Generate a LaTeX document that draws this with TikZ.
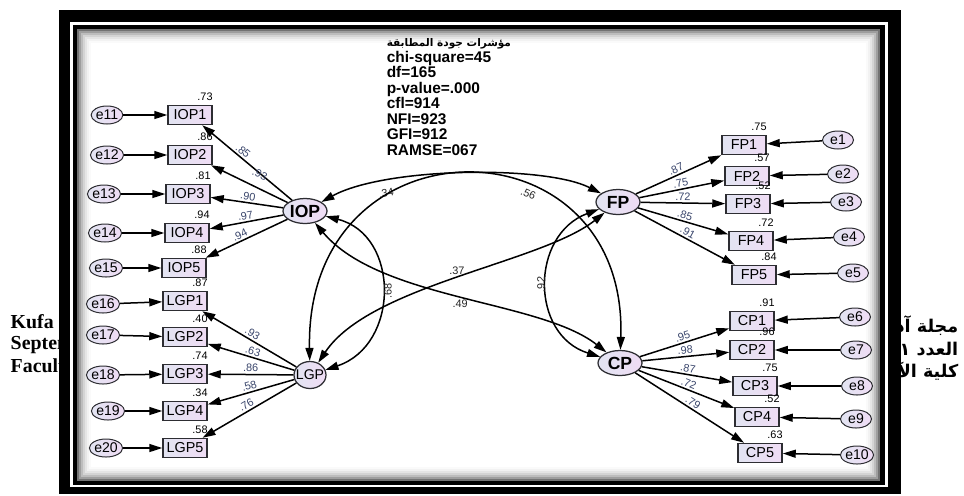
\documentclass[tikz,border=0pt]{standalone}
\usepackage{fontspec}
\setmainfont{Liberation Sans}
\newfontfamily\timesbold{Liberation Serif}
\newfontfamily\arabicfont[Script=Arabic]{DejaVu Sans}
\usetikzlibrary{arrows.meta,shapes.geometric}
\TeXXeTstate=1

\definecolor{fillL}{RGB}{226,228,242}
\definecolor{fillR}{RGB}{239,220,244}
\definecolor{rim}{RGB}{45,45,50}
\definecolor{loadblue}{RGB}{58,70,108}

\tikzset{
  obs/.style={rectangle, draw=rim, line width=0.3mm, left color=fillL, right color=fillR,
    minimum width=8.8mm, minimum height=3.8mm, inner sep=0pt,
    font=\fontsize{8.2}{9}\selectfont},
  err/.style={ellipse, draw=rim, line width=0.2mm, left color=fillL, right color=fillR,
    minimum width=6.2mm, minimum height=3.6mm, inner sep=0pt,
    font=\fontsize{8}{9}\selectfont},
  lat/.style={ellipse, draw=rim, line width=0.25mm, left color=fillL, right color=fillR,
    minimum width=8.8mm, minimum height=5mm, inner sep=0pt,
    font=\bfseries\fontsize{10}{11}\selectfont},
  varlbl/.style={font=\fontsize{6.2}{7}\selectfont, inner sep=0.6pt, xshift=3mm},
  loadlbl/.style={font=\fontsize{6.2}{7}\selectfont, text=loadblue, inner sep=1pt},
  covlbl/.style={font=\fontsize{6.2}{7}\selectfont, text=black!85, inner sep=1pt},
  fitlbl/.style={font=\bfseries\fontsize{8.8}{9}\selectfont, inner sep=0pt, anchor=base west},
  pagetxt/.style={font=\timesbold\bfseries\fontsize{11.3}{12}\selectfont, inner sep=0pt},
  pagearab/.style={font=\arabicfont\bfseries\fontsize{10}{12}\selectfont, inner sep=0pt, anchor=east}
}

\begin{document}
\begin{tikzpicture}[x=0.2mm, y=-0.2mm, >={Triangle[length=2.6mm,width=1.6mm]},
  line width=0.3mm, label distance=0.5mm]
\useasboundingbox (0,0) rectangle (964,495);

% ----- Page text behind the frame -----
\foreach \t/\y in {Kufa J/322, Septem/345, Faculty/368}{
  \node[pagetxt, anchor=west] (pg\y) at (10,\y) {\t};
}
\node[pagearab] (ar1) at (959,326) {\beginR مجلة آداب\endR};
\node[pagearab] (ar2) at (959,349) {\beginR العدد ٦١\endR};
\node[pagearab] (ar3) at (959,371) {\beginR كلية الآداب\endR};

% ----- Frame -----
\fill[black] (59,10) rectangle (901,494);
\fill[white] (70,22) rectangle (888,487);
\fill[black] (73,25) rectangle (885,485);
\fill[white] (77,29) rectangle (880,481);
\foreach \i/\c in {0/55,1/38,2/26,3/17,4/10,5/5,6/2}{
  \draw[black!\c, line width=0.4mm] (78+2*\i,30+2*\i) rectangle (879-2*\i,480-2*\i);
}

% ----- Fit indices -----
\node[fitlbl, font=\arabicfont\bfseries\fontsize{6}{9}\selectfont] (fit0) at (386,46) {\beginR مؤشرات جودة المطابقة\endR};
\foreach \t [count=\i] in {chi-square=45, df=165, p-value=.000, cfl=914, NFI=923, GFI=912, RAMSE=067}{
  \node[fitlbl] (fit\i) at (386,{46.5+15.5*\i}) {\t};
}

% ----- Latent factors -----
\node[lat] (IOP) at (305,211) {IOP};
\node[lat] (FP) at (618,202) {FP};
\node[lat] (CP) at (620,363) {CP};
\node[lat, font=\fontsize{8}{9}\selectfont, minimum width=6.4mm, minimum height=5.4mm,
  inner xsep=-1.2mm] (LGP) at (310,375) {LGP};

% ----- IOP items -----
\foreach \n/\bx/\by/\ex/\va/\ld/\lp/\ls in {1/190/115/107/.73/.85/.41/0mm, 2/190/155/107/.86/.93/.56/1.4mm,
    3/188/194/104/.81/.90/.5/0mm, 4/187/233/105/.94/.97/.5/0mm, 5/184/268/106/.88/.94/.45/0mm}{
  \node[obs, label={[varlbl]above:\va}] (IOP\n) at (\bx,\by) {IOP\n};
  \node[err] (e1\n) at (\ex,\by) {e1\n};
  \draw[->] (e1\n) -- (IOP\n);
  \draw[<-] (IOP\n) -- node[loadlbl, sloped, above=\ls, pos=\lp] {\ld} (IOP);
}

% ----- LGP items -----
\foreach \n/\by/\ex/\ey/\va/\ld [count=\k from 16] in {1/301/103/304/.87/.93, 2/337/103/335/.40/.63,
    3/374/103/375/.74/.86, 4/411/108/411/.34/.58, 5/448/106/448/.58/.76}{
  \node[obs, label={[varlbl]above:\va}] (LGP\n) at (185,\by) {LGP\n};
  \node[err] (e\k) at (\ex,\ey) {e\k};
  \draw[->] (e\k) -- (LGP\n);
  \draw[<-] (LGP\n) -- node[loadlbl, sloped, above] {\ld} (LGP);
}

% ----- FP items -----
\foreach \n/\bx/\by/\ex/\ey/\va/\ld in {1/744/145/838/140/.75/.87, 2/747/176/843/174/.57/.75,
    3/748/204/846/202/.52/.72, 4/751/241/849/237/.72/.85, 5/754/275/853/273/.84/.91}{
  \node[obs, label={[varlbl]above:\va}] (FP\n) at (\bx,\by) {FP\n};
  \node[err] (e\n) at (\ex,\ey) {e\n};
  \draw[->] (e\n) -- (FP\n);
  \draw[->] (FP) -- node[loadlbl, sloped, above] {\ld} (FP\n);
}

% ----- CP items -----
\foreach \n/\bx/\by/\ex/\ey/\va/\ld [count=\k from 6] in {1/752/321/855/317/.91/.95, 2/752/350/856/350/.96/.98,
    3/755/386/857/386/.75/.87, 4/757/417/856/419/.52/.72, 5/760/453/857/455/.63/.79}{
  \node[obs, label={[varlbl]above:\va}] (CP\n) at (\bx,\by) {CP\n};
  \node[err] (e\k) at (\ex,\ey) {e\k};
  \draw[->] (e\k) -- (CP\n);
  \draw[->] (CP) -- node[loadlbl, sloped, above] {\ld} (CP\n);
}

% ----- Covariances -----
\draw[<->] (IOP) .. controls (385,167) and (545,165) .. (FP)
  node[covlbl, pos=.25, sloped, below=1mm] {.34};
\draw[<->] (LGP) .. controls (305,115) and (628,115) .. (CP)
  node[covlbl, pos=.64, sloped, below] {.56};
\draw[<->] (IOP) .. controls (400,235) and (400,345) .. (LGP)
  node[covlbl, pos=.5, rotate=90, anchor=north] {.68};
\draw[<->] (LGP) .. controls (370,285) and (541,263) .. (FP)
  node[covlbl, pos=.5, above] {.37};
\draw[<->] (IOP) .. controls (380,300) and (540,300) .. (CP)
  node[covlbl, pos=.5, below] {.49};
\draw[<->] (FP) .. controls (530,235) and (530,335) .. (CP)
  node[covlbl, pos=.5, rotate=90, anchor=south] {.92};
\end{tikzpicture}
\end{document}
